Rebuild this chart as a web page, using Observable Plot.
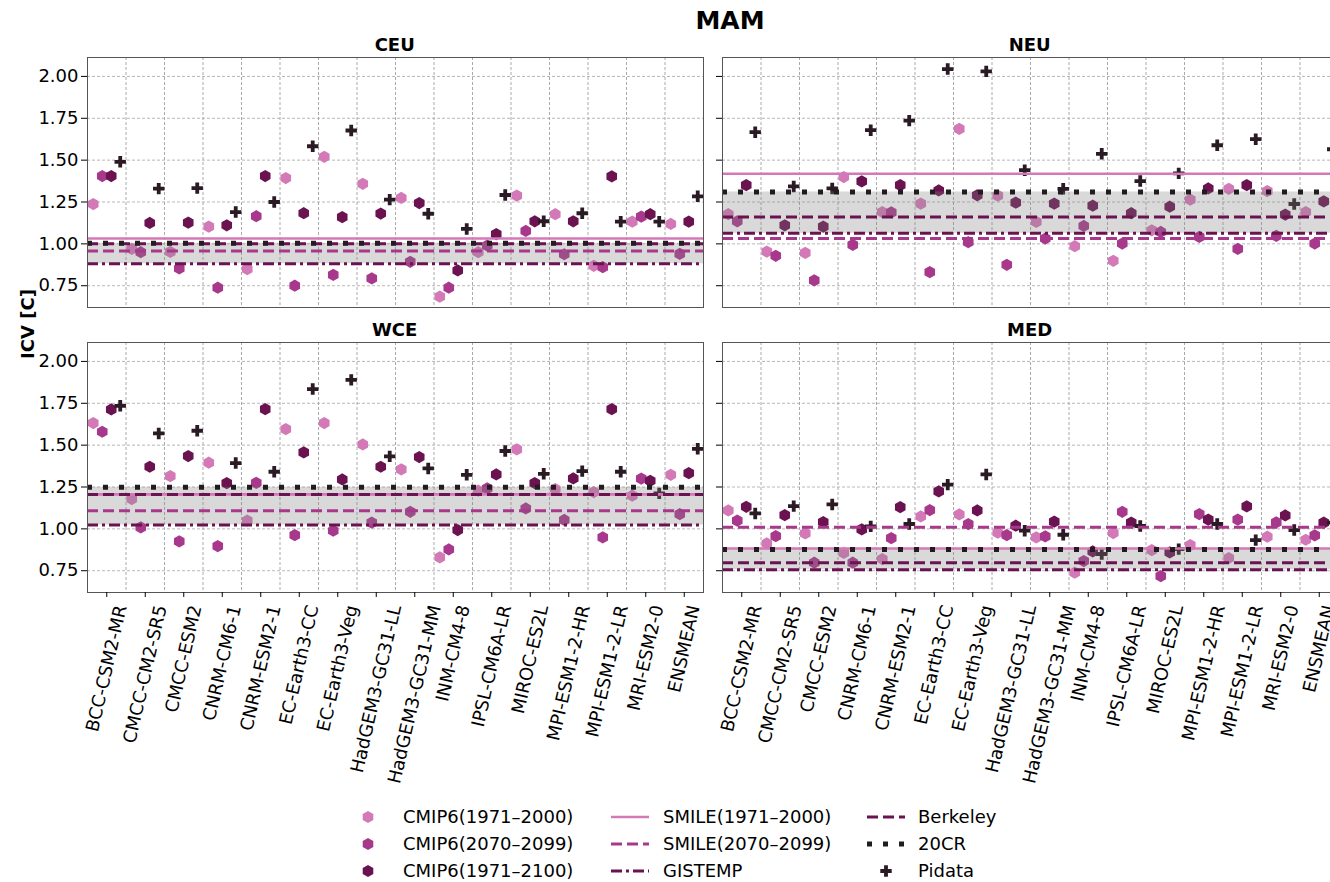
<!DOCTYPE html>
<html><head><meta charset="utf-8">
<script src="https://cdn.jsdelivr.net/npm/d3@7"></script>
<script src="https://cdn.jsdelivr.net/npm/@observablehq/plot@0.6"></script>
<style>
html,body{margin:0;padding:0;background:#fff;overflow:hidden;}
#fig{position:relative;width:1330px;height:882px;overflow:hidden;font-family:"DejaVu Sans",sans-serif;color:#000;}
.panel{position:absolute;}
.txt{position:absolute;white-space:nowrap;}
.leg{position:absolute;font-size:18px;white-space:nowrap;line-height:20px;}
</style></head><body><div id="fig"></div>
<script>
// ---------------- data ----------------
const models = ["BCC-CSM2-MR","CMCC-CM2-SR5","CMCC-ESM2","CNRM-CM6-1","CNRM-ESM2-1","EC-Earth3-CC","EC-Earth3-Veg","HadGEM3-GC31-LL","HadGEM3-GC31-MM","INM-CM4-8","IPSL-CM6A-LR","MIROC-ES2L","MPI-ESM1-2-HR","MPI-ESM1-2-LR","MRI-ESM2-0","ENSMEAN"];
const yTicks = [0.75, 1.00, 1.25, 1.50, 1.75, 2.00];
const seriesNames = ["CMIP6(1971–2000)","CMIP6(2070–2099)","CMIP6(1971–2100)","Pidata"];
const refNames = ["SMILE(1971–2000)","SMILE(2070–2099)","GISTEMP","Berkeley","20CR"];

const CEU_hist = [1.238,0.970,0.952,1.103,0.849,1.393,1.520,1.359,1.274,0.685,0.950,1.288,1.177,0.869,1.133,1.119];
const CEU_fut  = [1.405,0.950,0.853,0.738,1.165,0.750,0.815,0.794,0.893,0.738,0.990,1.077,0.938,0.861,1.163,0.940];
const CEU_full = [1.405,1.125,1.127,1.111,1.405,1.183,1.160,1.181,1.244,0.841,1.058,1.135,1.135,1.403,1.177,1.133];
const CEU_pi   = [1.490,1.330,1.333,1.190,1.250,1.583,1.677,1.264,1.180,1.089,1.292,1.135,1.183,1.133,1.133,1.284];
const CEU_refs = [1.032,0.958,0.881,1.000,1.004];

const NEU_hist = [1.177,0.954,0.946,1.399,1.190,1.240,1.687,1.288,1.131,0.986,0.899,1.081,1.264,1.329,1.315,1.190];
const NEU_fut  = [1.135,0.929,0.782,0.994,1.188,0.831,1.010,0.875,1.032,1.107,1.002,1.071,1.042,0.970,1.048,1.002];
const NEU_full = [1.351,1.111,1.103,1.373,1.351,1.319,1.290,1.246,1.240,1.228,1.183,1.222,1.331,1.351,1.175,1.254];
const NEU_pi   = [1.667,1.343,1.331,1.679,1.736,2.044,2.030,1.440,1.329,1.538,1.375,1.421,1.589,1.625,1.238,1.565];
const NEU_refs = [1.419,1.032,1.063,1.161,1.310];

const WCE_hist = [1.632,1.178,1.315,1.395,1.049,1.596,1.632,1.504,1.355,0.830,1.228,1.475,1.238,1.220,1.198,1.323];
const WCE_fut  = [1.580,1.009,0.925,0.897,1.275,0.963,0.989,1.037,1.102,0.877,1.242,1.122,1.053,0.949,1.300,1.088];
const WCE_full = [1.713,1.371,1.435,1.273,1.715,1.457,1.295,1.371,1.429,0.993,1.325,1.273,1.301,1.715,1.287,1.333];
const WCE_pi   = [1.735,1.570,1.586,1.393,1.341,1.835,1.890,1.433,1.361,1.323,1.465,1.329,1.345,1.341,1.212,1.478];
const WCE_refs = [1.206,1.108,1.023,1.206,1.248];

const MED_hist = [1.110,0.913,0.973,0.856,0.820,1.074,1.086,0.977,0.949,0.738,0.975,0.873,0.903,0.826,0.953,0.935];
const MED_fut  = [1.049,0.957,0.798,0.798,0.945,1.112,1.029,0.963,0.955,0.808,1.102,0.718,1.088,1.055,1.039,0.961];
const MED_full = [1.132,1.082,1.041,0.997,1.130,1.224,1.110,1.019,1.043,0.865,1.037,0.859,1.055,1.134,1.080,1.037];
const MED_pi   = [1.092,1.136,1.146,1.015,1.029,1.264,1.325,0.989,0.965,0.850,1.017,0.879,1.029,0.933,0.993,1.037];
const MED_refs = [0.883,1.009,0.756,0.798,0.877];

// ---------------- styles ----------------
const cLight = "#d479b7", cMid = "#a8388b", cDark = "#6a1350", cPi = "#2a1a23", c20 = "#221b1f";
const seriesStyle = [
  {color: cLight, symbol: "hexagon", r: 5.3},
  {color: cMid, symbol: "hexagon", r: 5.3},
  {color: cDark, symbol: "hexagon", r: 5.3},
  {color: cPi, symbol: "cross", r: 4.8}
];
const refStyle = [
  {stroke: cLight, strokeWidth: 2.6, dash: null},
  {stroke: cMid, strokeWidth: 3, dash: "11,5"},
  {stroke: cDark, strokeWidth: 3, dash: "11,4,3,4"},
  {stroke: cDark, strokeWidth: 3, dash: "11,5"},
  {stroke: c20, strokeWidth: 5, dash: "5,11"}
];
const offsets = [-0.35, -0.1167, 0.1167, 0.35];
const FONT = "DejaVu Sans";
const FS = 18;
const ROT = 77;
const fig = document.getElementById("fig");

const ctx = document.createElement("canvas").getContext("2d");
ctx.font = `${FS}px "${FONT}"`;
const ang = ROT * Math.PI / 180;
function labelDy(s) {
  const w = ctx.measureText(s).width;
  return 11 + (w * Math.sin(ang) + FS * Math.cos(ang)) / 2;
}

function panel(title, series, refs, o) {
  const W = 616, H = 250;
  const mL = 70, mT = 5, mR = 5, mB = o.bottom ? 235 : 5;
  const n = models.length;
  const xDomain = [-0.5, n - 0.5];
  const bounds = d3.range(0.5, n - 1, 1);
  const marks = [
    Plot.ruleY(yTicks, {y: d => d, stroke: "#b0b0b0", strokeWidth: 0.9, strokeDasharray: "3,2"}),
    Plot.ruleX(bounds, {x: d => d, stroke: "#a0a0a0", strokeWidth: 0.9, strokeDasharray: "3,2"})
  ];
  series.forEach((arr, k) => {
    const st = seriesStyle[k];
    marks.push(Plot.dot(arr.map((v, i) => ({i, v})), {
      x: d => d.i + offsets[k], y: "v", symbol: st.symbol, r: st.r, fill: st.color, stroke: "none"
    }));
  });
  const obs = refs.slice(2);
  const band = [{lo: d3.min(obs), hi: d3.max(obs)}];
  marks.push(Plot.rect(band, {x1: () => xDomain[0], x2: () => xDomain[1], y1: "lo", y2: "hi", fill: "#808080", fillOpacity: 0.3}));
  refs.forEach((v, k) => {
    const st = refStyle[k];
    marks.push(Plot.ruleY([v], {y: d => d, stroke: st.stroke, strokeWidth: st.strokeWidth, strokeDasharray: st.dash || undefined}));
  });
  marks.push(Plot.frame({stroke: "#555", strokeWidth: 1}));
  marks.push(Plot.axisY({ticks: yTicks, tickSize: 6, tickPadding: 3, tickFormat: o.yLabels ? d3.format(".2f") : () => "", fontSize: FS, label: null, fill: "#000"}));
  if (o.bottom) {
    marks.push(Plot.axisX({ticks: d3.range(n), tickSize: 5, tickFormat: () => "", label: null}));
    models.forEach((m, i) => {
      marks.push(Plot.text([i], {x: d => d, text: () => m, frameAnchor: "bottom", rotate: -ROT,
        textAnchor: "middle", lineAnchor: "middle", dy: labelDy(m), fontSize: FS, fill: "#000"}));
    });
  }
  const svg = Plot.plot({
    width: mL + W + mR, height: mT + H + mB,
    marginLeft: mL, marginRight: mR, marginTop: mT, marginBottom: mB,
    x: o.bottom ? {domain: xDomain} : {domain: xDomain, axis: null},
    y: {domain: [0.62, 2.113]},
    style: {fontFamily: FONT, fontSize: FS + "px", background: "transparent", overflow: "visible", color: "#000"},
    marks
  });
  svg.classList.add("panel");
  svg.style.left = (o.left - mL) + "px";
  svg.style.top = (o.top - mT) + "px";
  fig.appendChild(svg);
  const t = document.createElement("div");
  t.className = "txt";
  t.textContent = title;
  t.style.cssText += `font-weight:bold;font-size:${FS}px;left:${o.left}px;width:${W}px;text-align:center;top:${o.top - 23}px;`;
  fig.appendChild(t);
}

panel("CEU", [CEU_hist, CEU_fut, CEU_full, CEU_pi], CEU_refs, {left: 86.7, top: 56.5, yLabels: true, bottom: false});
panel("NEU", [NEU_hist, NEU_fut, NEU_full, NEU_pi], NEU_refs, {left: 721.7, top: 56.5, yLabels: false, bottom: false});
panel("WCE", [WCE_hist, WCE_fut, WCE_full, WCE_pi], WCE_refs, {left: 86.7, top: 341.7, yLabels: true, bottom: true});
panel("MED", [MED_hist, MED_fut, MED_full, MED_pi], MED_refs, {left: 721.7, top: 341.7, yLabels: false, bottom: true});

// title & y label
const mt = document.createElement("div");
mt.className = "txt"; mt.textContent = "MAM";
mt.style.cssText += "font-weight:bold;font-size:25px;left:630px;width:200px;text-align:center;top:6px;";
fig.appendChild(mt);
const yl = document.createElement("div");
yl.className = "txt"; yl.textContent = "ICV [C]";
yl.style.cssText += `font-weight:bold;font-size:${FS}px;left:27px;top:324px;transform:translate(-50%,-50%) rotate(-90deg);`;
fig.appendChild(yl);

// ---------------- legend ----------------
const rows = [817, 844, 871];
function legText(x, y, s) {
  const d = document.createElement("div");
  d.className = "leg"; d.textContent = s;
  d.style.left = x + "px"; d.style.top = (y - 10) + "px";
  fig.appendChild(d);
}
function legSvg(x, y, w, h, inner) {
  const ns = "http://www.w3.org/2000/svg";
  const s = document.createElementNS(ns, "svg");
  s.setAttribute("width", w); s.setAttribute("height", h);
  s.style.position = "absolute"; s.style.left = x + "px"; s.style.top = (y - h / 2) + "px";
  s.innerHTML = inner;
  fig.appendChild(s);
}
function hexPath(r) {
  const ry = r * 2 / Math.sqrt(3), hy = ry / 2;
  return `M0,${ry}L${r},${hy}L${r},${-hy}L0,${-ry}L${-r},${-hy}L${-r},${hy}Z`;
}
function crossPath(r) {
  const a = Math.sqrt(Math.PI * r * r / 5) / 2, b = 3 * a;
  return `M${-b},${-a}L${-a},${-a}L${-a},${-b}L${a},${-b}L${a},${-a}L${b},${-a}L${b},${a}L${a},${a}L${a},${b}L${-a},${b}L${-a},${a}L${-b},${a}Z`;
}
// column 1: CMIP6 markers
[0, 1, 2].forEach(k => {
  legSvg(358, rows[k], 20, 20, `<path transform="translate(10,10)" d="${hexPath(5.3)}" fill="${seriesStyle[k].color}"/>`);
  legText(403, rows[k], seriesNames[k]);
});
// column 2: SMILE + GISTEMP
[0, 1, 2].forEach((k, j) => {
  const st = refStyle[k];
  legSvg(611, rows[j], 38, 10, `<line x1="0" x2="38" y1="5" y2="5" stroke="${st.stroke}" stroke-width="${st.strokeWidth}" ${st.dash ? `stroke-dasharray="${st.dash}"` : ""}/>`);
  legText(663, rows[j], refNames[k]);
});
// column 3: Berkeley, 20CR, Pidata
[3, 4].forEach((k, j) => {
  const st = refStyle[k];
  legSvg(867, rows[j], 38, 10, `<line x1="0" x2="38" y1="5" y2="5" stroke="${st.stroke}" stroke-width="${st.strokeWidth}" stroke-dasharray="${st.dash}"/>`);
  legText(918, rows[j], refNames[k]);
});
legSvg(876, rows[2], 20, 20, `<path transform="translate(10,10)" d="${crossPath(4.8)}" fill="${cPi}"/>`);
legText(918, rows[2], seriesNames[3]);
</script></body></html>
